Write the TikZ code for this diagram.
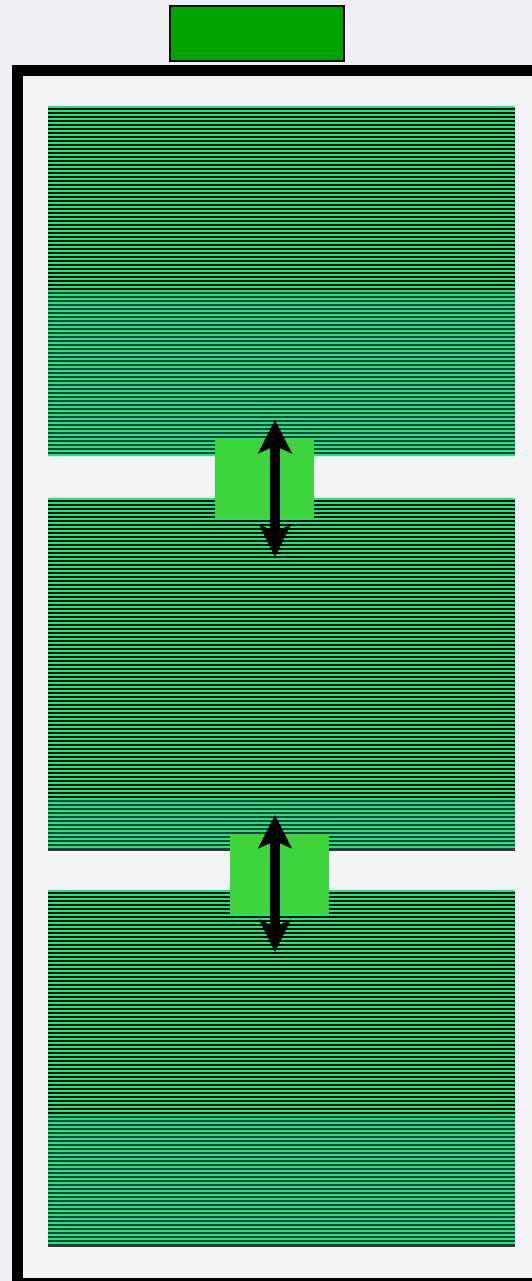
\documentclass[tikz,border=0pt]{standalone}
\usetikzlibrary{arrows.meta}
\definecolor{bg}{RGB}{238,240,243}
\definecolor{innerbg}{RGB}{243,244,246}
\definecolor{topgreen}{RGB}{0,166,0}
\definecolor{stripegreen}{RGB}{0,245,122}
\definecolor{darkgray}{RGB}{55,55,55}
\definecolor{padgreen}{RGB}{61,212,61}
\tikzset{
  frame/.style={draw=black,line width=11pt,fill=innerbg},
  topbox/.style={draw=black,line width=2pt,fill=topgreen},
  pad/.style={fill=padgreen,draw=none},
  stripe/.style={draw=stripegreen,line width=2.4pt},
  dblarrow/.style={line width=10pt,{Stealth[length=33pt,width=33pt,inset=7pt]}-{Stealth[length=32pt,width=31pt,inset=7pt]}},
}
\begin{document}
\begin{tikzpicture}[x=1pt,y=-1pt]
\useasboundingbox (0,0) rectangle (532,1281);
\fill[bg] (0,0) rectangle (532,1281);
\draw[frame] (17.5,70.5) rectangle (545,1283);
\node[topbox,minimum width=174pt,minimum height=55pt,inner sep=0pt] (top) at (256.5,34) {};
% block 1
\fill[black] (48,106) rectangle (515,292);
\fill[darkgray] (48,292) rectangle (515,456);
\foreach \yy in {107,111,...,455}{\draw[stripe] (48,\yy) -- (515,\yy);}
% block 2
\fill[black] (48,498) rectangle (515,799);
\fill[darkgray] (48,799) rectangle (515,851);
\foreach \yy in {499,503,...,850}{\draw[stripe] (48,\yy) -- (515,\yy);}
% block 3
\fill[black] (48,890) rectangle (515,1115);
\fill[darkgray] (48,1115) rectangle (515,1247);
\foreach \yy in {891,895,...,1246}{\draw[stripe] (48,\yy) -- (515,\yy);}
% pads
\node[pad,minimum width=99pt,minimum height=80pt,inner sep=0pt] (p1) at (264.5,479) {};
\node[pad,minimum width=99pt,minimum height=80pt,inner sep=0pt] (p2) at (279.5,873.5) {};
% arrows
\coordinate (a1t) at (275,420);
\coordinate (a1b) at (275,557);
\coordinate (a2t) at (275,815);
\coordinate (a2b) at (275,952);
\draw[dblarrow] (a1t) -- (a1b);
\draw[dblarrow] (a2t) -- (a2b);
\end{tikzpicture}
\end{document}
